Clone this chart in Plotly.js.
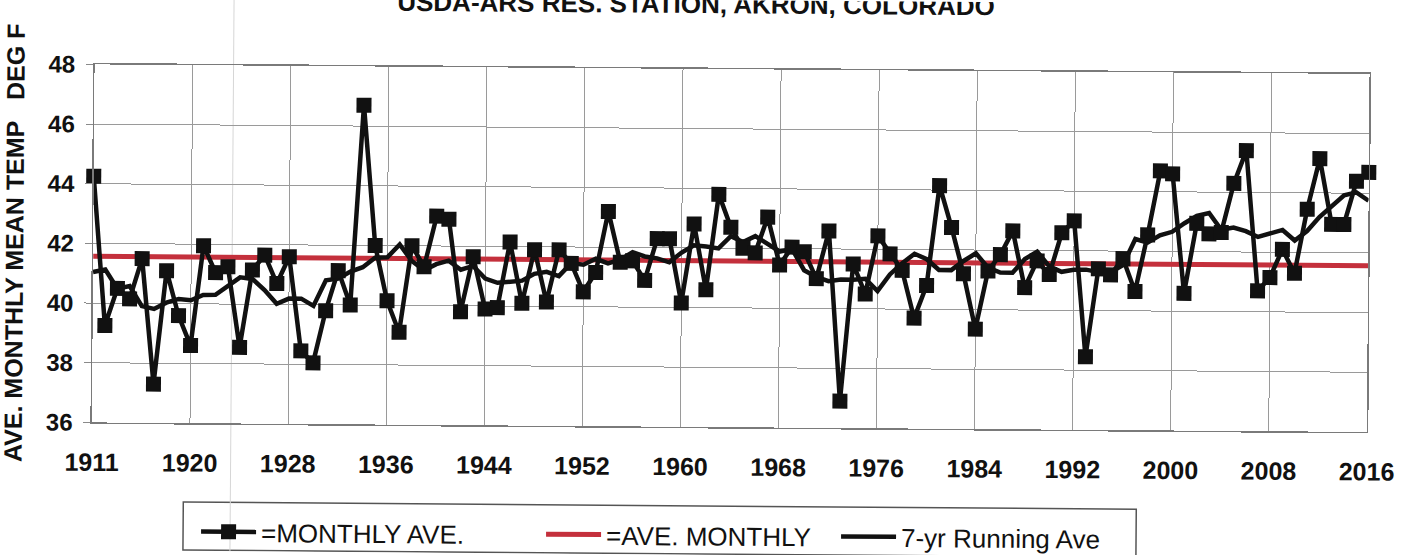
<!DOCTYPE html>
<html>
<head>
<meta charset="utf-8">
<script src="https://cdn.plot.ly/plotly-3.0.1.min.js"></script>
<style>
  html, body { margin: 0; padding: 0; background: #ffffff; overflow: hidden; }
  #chart { width: 1414px; height: 555px; transform: rotate(0.43deg); transform-origin: 707px 277px; }
</style>
</head>
<body>
<div id="chart"></div>
<script>
// ---- data ----
const years = [1912,1913,1914,1915,1916,1917,1918,1919,1920,1921,1922,1923,1924,1925,1926,1927,1928,1929,1930,1931,
  1932,1933,1934,1935,1936,1937,1938,1939,1940,1941,1942,1943,1944,1945,1946,1947,1948,1949,1950,1951,
  1952,1953,1954,1955,1956,1957,1958,1959,1960,1961,1962,1963,1964,1965,1966,1967,1968,1969,1970,1971,
  1972,1973,1974,1975,1976,1977,1978,1979,1980,1981,1982,1983,1984,1985,1986,1987,1988,1989,1990,1991,
  1992,1993,1994,1995,1996,1997,1998,1999,2000,2001,2002,2003,2004,2005,2006,2007,2008,2009,2010,2011,
  2012,2013,2014,2015,2016];

const monthlyAve = [44.25,39.25,40.5,40.15,41.5,37.3,41.1,39.6,38.6,41.95,41.05,41.25,38.55,41.15,41.65,40.7,41.6,38.45,38.05,39.8,
  41.15,40.0,46.7,42.0,40.15,39.1,42.0,41.3,43.0,42.9,39.8,41.65,39.9,39.95,42.15,40.1,41.9,40.15,41.9,41.45,
  40.5,41.15,43.2,41.5,41.55,40.9,42.3,42.3,40.15,42.8,40.6,43.8,42.7,42.0,41.85,43.05,41.45,42.05,41.9,41.0,
  42.6,36.9,41.5,40.5,42.45,41.85,41.3,39.7,40.8,44.15,42.75,41.2,39.35,41.3,41.85,42.65,40.75,41.65,41.2,42.6,
  43.0,38.45,41.4,41.2,41.75,40.65,42.55,44.7,44.6,40.6,42.95,42.6,42.65,44.3,45.4,40.7,41.15,42.1,41.3,43.45,
  45.15,42.95,42.95,44.4,44.7];

const runningAve = [41.04,41.13,40.49,40.58,39.91,39.82,40.03,40.16,40.12,40.30,40.31,40.60,40.90,40.85,40.48,40.02,40.20,40.20,39.96,40.82,
  40.88,41.12,41.27,41.59,41.61,42.04,41.49,41.18,41.39,41.51,41.21,41.34,40.92,40.78,40.83,40.86,41.09,41.16,41.02,41.46,
  41.41,41.61,41.46,41.59,41.84,41.70,41.64,41.51,41.84,42.09,42.05,41.99,42.40,42.21,42.41,42.14,41.90,41.99,41.28,41.06,
  40.92,40.98,40.97,41.01,40.60,41.16,41.54,41.86,41.68,41.32,41.32,41.63,41.89,41.41,41.25,41.25,41.71,41.96,41.47,41.29,
  41.36,41.37,41.29,41.29,41.53,42.41,42.29,42.54,42.66,42.95,43.20,43.30,42.74,42.82,42.70,42.51,42.63,42.75,42.40,42.72,
  43.19,43.56,43.93,44.03,43.75];

const aveMonthly = 41.57;

const xTickVals = [1912,1920,1928,1936,1944,1952,1960,1968,1976,1984,1992,2000,2008,2016];
const xTickText = ['1911','1920','1928','1936','1944','1952','1960','1968','1976','1984','1992','2000','2008','2016'];
const yTickVals = [36,38,40,42,44,46,48];

const seriesNames = ['=MONTHLY AVE.', '=AVE. MONTHLY', '7-yr Running Ave'];
const chartTitle = 'USDA-ARS RES. STATION, AKRON, COLORADO';
const yTitle = 'AVE. MONTHLY MEAN TEMP\u00a0\u00a0\u00a0DEG F';

// ---- drawing ----
const FONT = '"Liberation Sans", Arial, Helvetica, sans-serif';

const traces = [
  {
    name: seriesNames[1],
    x: [years[0], years[years.length - 1]],
    y: [aveMonthly, aveMonthly],
    mode: 'lines',
    line: { color: '#c4303c', width: 5 },
    legend: 'legend2',
    hoverinfo: 'skip'
  },
  {
    name: seriesNames[2],
    x: years,
    y: runningAve,
    mode: 'lines',
    line: { color: '#111111', width: 4.5 },
    legend: 'legend3'
  },
  {
    name: seriesNames[0],
    x: years,
    y: monthlyAve,
    mode: 'lines+markers',
    line: { color: '#111111', width: 4.5 },
    marker: { symbol: 'square', size: 15, color: '#111111' },
    cliponaxis: false,
    legend: 'legend'
  }
];

const plotL = 93, plotR = 1368, plotT = 69, plotB = 427;
const W = 1414, H = 555;
const px2x = p => (p - plotL) / (plotR - plotL);
const px2y = p => (plotB - p) / (plotB - plotT);

const legendCommon = {
  orientation: 'h',
  xanchor: 'left',
  yanchor: 'top',
  bgcolor: 'rgba(0,0,0,0)',
  borderwidth: 0,
  font: { family: FONT, size: 26, color: '#111111' },
  itemwidth: 55,
  tracegroupgap: 0
};

const layout = {
  width: W,
  height: H,
  margin: { l: plotL, r: W - plotR, t: plotT, b: H - plotB, pad: 0, autoexpand: false },
  paper_bgcolor: '#ffffff',
  plot_bgcolor: '#ffffff',
  showlegend: true,
  title: {
    text: '<b>' + chartTitle + '</b>',
    font: { family: FONT, size: 26, color: '#111111' },
    x: 694 / W,
    xref: 'container',
    xanchor: 'center',
    y: 1 - 4 / H,
    yref: 'container',
    yanchor: 'middle'
  },
  xaxis: {
    range: [years[0], years[years.length - 1]],
    tickmode: 'array',
    tickvals: xTickVals,
    ticktext: xTickText,
    ticks: '',
    ticklabelstandoff: 17,
    tickfont: { family: FONT, size: 25, color: '#111111', weight: 'bold' },
    showgrid: true,
    gridcolor: '#9a9a9a',
    gridwidth: 1,
    showline: true,
    linecolor: '#7a7a7a',
    linewidth: 1.5,
    mirror: true,
    zeroline: false,
    fixedrange: true
  },
  yaxis: {
    range: [36, 48],
    tickmode: 'array',
    tickvals: yTickVals,
    ticks: 'outside',
    ticklen: 7,
    tickcolor: '#8a8a8a',
    tickwidth: 1,
    ticklabelstandoff: 6,
    tickfont: { family: FONT, size: 24, color: '#111111', weight: 'bold' },
    showgrid: true,
    gridcolor: '#9a9a9a',
    gridwidth: 1,
    showline: true,
    linecolor: '#7a7a7a',
    linewidth: 1.5,
    mirror: true,
    zeroline: false,
    fixedrange: true,
    title: {
      text: '<b>' + yTitle + '</b>',
      font: { family: FONT, size: 25, color: '#111111' },
      standoff: 22
    }
  },
  legend: Object.assign({}, legendCommon, { x: px2x(198), y: px2y(512) }),
  legend2: Object.assign({}, legendCommon, { x: px2x(543), y: px2y(512) }),
  legend3: Object.assign({}, legendCommon, { x: px2x(838), y: px2y(512) }),
  shapes: [
    {
      type: 'rect', xref: 'paper', yref: 'paper',
      x0: px2x(185), x1: px2x(1138), y0: px2y(506), y1: px2y(554),
      line: { color: '#555555', width: 1.5 }, fillcolor: 'rgba(0,0,0,0)', layer: 'below'
    },
    {
      type: 'line', xref: 'paper', yref: 'paper',
      x0: px2x(232), x1: px2x(232), y0: px2y(0), y1: px2y(H),
      line: { color: '#d6d6d6', width: 1 }, layer: 'below'
    }
  ]
};

Plotly.newPlot('chart', traces, layout, { displayModeBar: false, staticPlot: true });
</script>
</body>
</html>
